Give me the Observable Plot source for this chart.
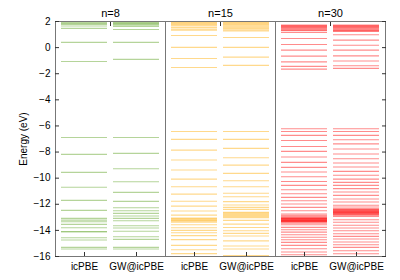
<!DOCTYPE html>
<html><head><meta charset="utf-8">
<script src="https://cdn.jsdelivr.net/npm/d3@7"></script>
<script src="https://cdn.jsdelivr.net/npm/@observablehq/plot@0.6"></script>
<style>body{margin:0;background:#fff}</style>
</head><body><div id="chart"></div>
<script>
const panels = ["n=8", "n=15", "n=30"];
const methods = ["icPBE", "GW@icPBE"];
const panelColors = ["#5ba01e", "#ffaa00", "#ff0000"];
const yTicks = [2, 0, -2, -4, -6, -8, -10, -12, -14, -16];

const n8_icPBE = [1.92, 1.85, 1.78, 1.65, 1.47, 0.40, -1.06, -6.88, -8.18, -9.56, -10.70, -11.70, -12.47,
  -13.08, -13.21, -13.34, -13.54, -13.80, -14.08, -14.12, -14.56, -14.74, -15.30, -15.43];
const n8_GW = [1.92, 1.86, 1.80, 1.72, 1.62, 1.39, 0.40, -0.90, -6.88, -8.10, -9.28, -10.28, -11.09, -11.78,
  -12.27, -12.50, -12.70, -12.90, -13.08, -13.26, -13.64, -13.82, -14.07, -14.49, -14.69, -15.30, -15.43];

const n15_icPBE = [1.93, 1.87, 1.81, 1.75, 1.67, 1.55, 1.42, 1.34, 0.93, 0.02, -0.83, -1.52, -6.42, -7.03,
  -7.85, -8.61, -9.38, -10.07, -10.66, -11.22, -11.77, -12.14, -12.51, -12.83, -13.06, -13.12, -13.18,
  -13.24, -13.30, -13.38, -13.57, -13.80, -14.00, -14.18, -14.40, -14.71, -15.15, -15.48, -15.78];
const n15_GW = [1.93, 1.87, 1.81, 1.74, 1.66, 1.57, 1.47, 1.37, 1.28, 0.78, 0.02, -0.73, -1.36, -6.42, -7.03,
  -7.72, -8.44, -9.00, -9.63, -10.20, -10.66, -11.16, -11.42, -11.80, -12.06, -12.24, -12.39, -12.62,
  -12.70, -12.78, -12.86, -12.94, -13.02, -13.23, -13.52, -13.78, -14.03, -14.23, -14.43, -14.80,
  -15.20, -15.42, -15.92];

const n30_icPBE = [1.72, 1.68, 1.64, 1.60, 1.54, 1.48, 1.42, 1.36, 1.30, 1.16, 0.70, 0.24, -0.19, -0.65, -1.09,
  -1.44, -1.65, -6.22, -6.42, -6.72, -7.11, -7.57, -7.95, -8.38, -8.79, -9.17, -9.53, -9.89, -10.25,
  -10.55, -10.89, -11.19, -11.47, -11.73, -11.98, -12.24, -12.49, -12.75, -12.84, -12.92, -13.00,
  -13.06, -13.09, -13.12, -13.15, -13.18, -13.21, -13.24, -13.27, -13.30, -13.33, -13.36, -13.44,
  -13.57, -13.77, -13.95, -14.13, -14.33, -14.53, -14.72, -14.92, -15.15, -15.41, -15.66, -15.87];
const n30_GW = [1.72, 1.68, 1.64, 1.60, 1.54, 1.48, 1.42, 1.36, 1.30, 1.24, 0.98, 0.57, 0.18, -0.19, -0.63,
  -1.03, -1.39, -1.59, -6.22, -6.42, -6.72, -7.06, -7.37, -7.77, -8.15, -8.51, -8.84, -9.15, -9.48,
  -9.78, -10.07, -10.32, -10.55, -10.80, -11.06, -11.32, -11.60, -11.83, -12.08, -12.21, -12.34,
  -12.38, -12.42, -12.46, -12.50, -12.54, -12.58, -12.62, -12.66, -12.70, -12.74, -12.78, -12.84,
  -12.93, -13.18, -13.38, -13.61, -13.82, -14.03, -14.26, -14.46, -14.66, -14.89, -15.10, -15.30,
  -15.56, -15.79];

const series = [
  [panels[0], methods[0], n8_icPBE], [panels[0], methods[1], n8_GW],
  [panels[1], methods[0], n15_icPBE], [panels[1], methods[1], n15_GW],
  [panels[2], methods[0], n30_icPBE], [panels[2], methods[1], n30_GW]
];
const rows = series.flatMap(([panel, method, vals]) => vals.map(E => ({panel, method, E})));

const chart = Plot.plot({
  width: 400, height: 280,
  marginLeft: 55, marginRight: 15, marginTop: 21, marginBottom: 24,
  style: {fontFamily: "'Liberation Sans', Arial, sans-serif", fontSize: "10px", color: "#000", background: "#fff"},
  fx: {domain: panels, padding: 0},
  x: {domain: methods, padding: 0.115},
  y: {domain: [-16, 2]},
  color: {domain: panels, range: panelColors},
  marks: [
    Plot.tickY(rows, {fx: "panel", x: "method", y: "E", stroke: "panel", strokeOpacity: 0.45, strokeWidth: 1.1}),
    Plot.frame({stroke: "#777"}),
    Plot.axisY(yTicks, {anchor: "left", tickSize: -4, fill: "none", stroke: "#333"}),
    Plot.axisY(yTicks, {anchor: "right", tickSize: -4, fill: "none", stroke: "#333", label: null}),
    Plot.axisY(yTicks, {anchor: "left", tickSize: 0, tickPadding: 5, fontSize: 10,
      label: "Energy (eV)", labelAnchor: "center", labelArrow: "none", labelOffset: 36}),
    Plot.axisX({anchor: "bottom", tickSize: -4, fill: "none", stroke: "#333", label: null}),
    Plot.axisX({anchor: "bottom", tickSize: 0, tickPadding: 6, fontSize: 10, label: null}),
    Plot.axisFx({anchor: "top", tickSize: -4, fill: "none", stroke: "#333", label: null}),
    Plot.axisFx({anchor: "top", tickSize: 0, tickPadding: 5, fontSize: 11, label: null})
  ]
});
document.getElementById("chart").appendChild(chart);
</script>
</body></html>
